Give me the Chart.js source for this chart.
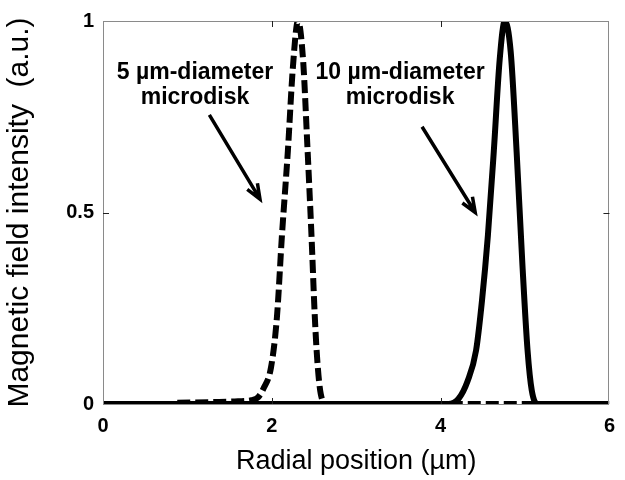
<!DOCTYPE html>
<html>
<head>
<meta charset="utf-8">
<script src="https://cdn.jsdelivr.net/npm/chart.js@4/dist/chart.umd.min.js"></script>
<style>
    html, body { margin: 0; padding: 0; background: #ffffff; }
    #wrap { width: 625px; height: 480px; }
</style>
</head>
<body>
<div id="wrap"><canvas id="fieldChart" width="625" height="480"></canvas></div>
<script>
// perfiles (x en µm, y normalizado)
const disco5X = [0.88, 1.3, 1.6, 1.76, 1.84, 1.9, 1.99, 2.06, 2.12, 2.19, 2.25, 2.31, 2.37, 2.42, 2.47, 2.51, 2.54, 2.58, 2.65, 6.0];
const disco5Y = [0.003, 0.005, 0.007, 0.01, 0.018, 0.04, 0.095, 0.225, 0.44, 0.66, 0.88, 1.0, 0.90, 0.68, 0.44, 0.225, 0.11, 0.026, 0, 0];
const disco10X = [0, 4.09, 4.21, 4.32, 4.42, 4.49, 4.56, 4.63, 4.70, 4.76, 4.83, 4.90, 4.97, 5.03, 5.08, 5.15, 6.0];
const disco10Y = [0, 0, 0.013, 0.06, 0.14, 0.27, 0.44, 0.66, 0.90, 1.0, 0.92, 0.66, 0.36, 0.14, 0.035, 0, 0];

const ticksX = [0, 2, 4, 6];
const ticksY = [0, 0.5, 1];

// anotaciones: texto y flechas en unidades de datos
const etiquetas = [
    { texto: "5 µm-diameter", x: 1.09, y: 0.865 },
    { texto: "microdisk", x: 1.09, y: 0.80 },
    { texto: "10 µm-diameter", x: 3.52, y: 0.865 },
    { texto: "microdisk", x: 3.52, y: 0.80 }
];
const flechas = [
    { x0: 1.26, y0: 0.755, x1: 1.86, y1: 0.535 },
    { x0: 3.78, y0: 0.724, x1: 4.41, y1: 0.500 }
];

function puntos(xs, ys) {
    return xs.map((x, i) => ({ x: x, y: ys[i] }));
}

const marcoYAnotaciones = {
    id: "marcoYAnotaciones",
    afterDatasetsDraw(chart) {
        const { ctx, chartArea, scales } = chart;
        const sx = scales.x;
        const sy = scales.y;
        ctx.save();
        // marco gris
        ctx.strokeStyle = "#8a8a8a";
        ctx.lineWidth = 1;
        ctx.strokeRect(Math.round(chartArea.left) + 0.5, Math.round(chartArea.top) + 0.5,
            Math.round(chartArea.right - chartArea.left) - 1, Math.round(chartArea.bottom - chartArea.top));
        // ticks hacia adentro
        ctx.strokeStyle = "#222222";
        ctx.beginPath();
        ticksX.slice(1, -1).forEach((v) => {
            const px = Math.round(sx.getPixelForValue(v)) + 0.5;
            ctx.moveTo(px, chartArea.bottom - 6);
            ctx.lineTo(px, chartArea.bottom);
            ctx.moveTo(px, chartArea.top);
            ctx.lineTo(px, chartArea.top + 6);
        });
        ticksY.slice(1, -1).forEach((v) => {
            const py = Math.round(sy.getPixelForValue(v)) + 0.5;
            ctx.moveTo(chartArea.left, py);
            ctx.lineTo(chartArea.left + 6, py);
            ctx.moveTo(chartArea.right - 6, py);
            ctx.lineTo(chartArea.right, py);
        });
        ctx.stroke();
        // textos
        ctx.fillStyle = "#000000";
        ctx.font = "bold 23px 'Liberation Sans', Arial, sans-serif";
        ctx.textAlign = "center";
        ctx.textBaseline = "middle";
        etiquetas.forEach((e) => {
            ctx.fillText(e.texto, sx.getPixelForValue(e.x), sy.getPixelForValue(e.y));
        });
        // flechas
        ctx.strokeStyle = "#000000";
        ctx.lineWidth = 3.5;
        ctx.lineCap = "butt";
        flechas.forEach((f) => {
            const ax = sx.getPixelForValue(f.x0);
            const ay = sy.getPixelForValue(f.y0);
            const bx = sx.getPixelForValue(f.x1);
            const by = sy.getPixelForValue(f.y1);
            const ang = Math.atan2(by - ay, bx - ax);
            ctx.beginPath();
            ctx.moveTo(ax, ay);
            ctx.lineTo(bx, by);
            ctx.moveTo(bx + Math.cos(ang + Math.PI - 0.38) * 16, by + Math.sin(ang + Math.PI - 0.38) * 16);
            ctx.lineTo(bx, by);
            ctx.lineTo(bx + Math.cos(ang + Math.PI + 0.38) * 16, by + Math.sin(ang + Math.PI + 0.38) * 16);
            ctx.stroke();
        });
        ctx.restore();
    }
};

Chart.defaults.font.family = "'Liberation Sans', Arial, sans-serif";
Chart.defaults.color = "#000000";

new Chart(document.getElementById("fieldChart"), {
    type: "line",
    plugins: [marcoYAnotaciones],
    data: {
        datasets: [
            { label: "10 µm", data: puntos(disco10X, disco10Y), borderColor: "#000000", borderWidth: 6, pointRadius: 0, cubicInterpolationMode: "monotone", fill: false },
            { label: "5 µm", data: puntos(disco5X, disco5Y), borderColor: "#000000", borderWidth: 6, borderDash: [13, 5], pointRadius: 0, cubicInterpolationMode: "monotone", fill: false }
        ]
    },
    options: {
        responsive: false,
        animation: false,
        layout: { padding: { top: 19, right: 6, left: 0, bottom: 0 } },
        plugins: { legend: { display: false }, tooltip: { enabled: false } },
        scales: {
            x: {
                type: "linear", min: 0, max: 6,
                afterBuildTicks: (s) => { s.ticks = ticksX.map((v) => ({ value: v })); },
                afterFit: (s) => { s.height = 76; },
                ticks: { font: { size: 20, weight: "bold" }, padding: 10, callback: (v) => String(v) },
                grid: { display: false, drawTicks: false },
                border: { display: false },
                title: { display: true, text: "Radial position (µm)", font: { size: 27 }, padding: { top: 0, bottom: 2 } }
            },
            y: {
                type: "linear", min: 0, max: 1,
                afterBuildTicks: (s) => { s.ticks = ticksY.map((v) => ({ value: v })); },
                afterFit: (s) => { s.width = 103; },
                ticks: { font: { size: 20, weight: "bold" }, padding: 9, callback: (v) => String(v) },
                grid: { display: false, drawTicks: false },
                border: { display: false },
                title: { display: true, text: "Magnetic field intensity  (a.u.)", font: { size: 30 }, padding: { top: 2, bottom: 0 } }
            }
        }
    }
});
</script>
</body>
</html>
